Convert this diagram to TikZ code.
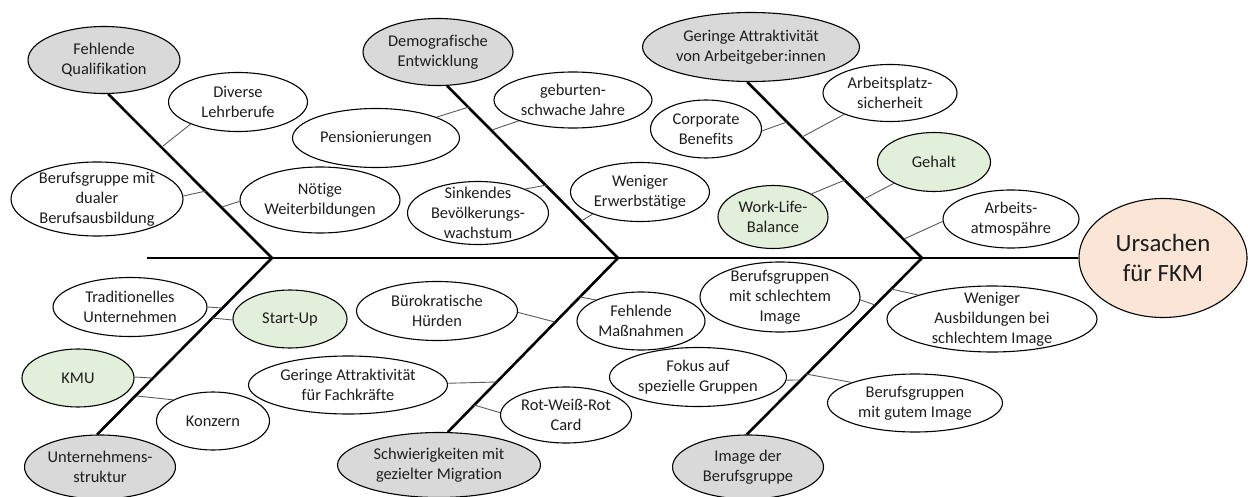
\documentclass[tikz,border=0pt]{standalone}
\usepackage{fontspec}
\setmainfont{Carlito}[Ligatures=NoCommon]
\usetikzlibrary{shapes.geometric}

\definecolor{causegrey}{HTML}{D9D9D9}
\definecolor{leafgreen}{HTML}{E2EFDA}
\definecolor{effectpeach}{HTML}{FBE5D6}
\definecolor{twiggrey}{HTML}{5A5A5A}
\definecolor{inkgrey}{HTML}{1E1E1E}

\tikzset{
  bubble/.style={ellipse, draw=black, line width=1.1pt, fill=white, inner sep=0pt},
  cause/.style={bubble, fill=causegrey},
  leaf/.style={bubble},
  greenleaf/.style={bubble, fill=leafgreen},
  effect/.style={bubble, fill=effectpeach},
  lbl/.style={align=center, inner sep=0pt, text=inkgrey, font=\fontsize{16.4}{20}\selectfont},
  biglbl/.style={align=center, inner sep=0pt, text=inkgrey, font=\fontsize{24.8}{30.5}\selectfont},
  bone/.style={line width=2.6pt, line join=miter},
  twig/.style={draw=twiggrey, line width=0.9pt},
}

% ellipse with its text: style, name, x, y, width, height, text
\newcommand{\ellnode}[7]{%
  \node[#1, minimum width=#5pt, minimum height=#6pt] (#2) at (#3,#4) {};
  \node[lbl] (#2-t) at (#2.center) {#7};
}

\begin{document}
\begin{tikzpicture}[x=1pt, y=-1pt]
\useasboundingbox (0,0) rectangle (1248,497);

% main causes
\ellnode{cause}{fq}{104}{60}{152}{67}{Fehlende\\Qualifikation}
\ellnode{cause}{dem}{438}{52}{150}{67}{Demografische\\Entwicklung}
\ellnode{cause}{att}{751}{47}{217}{69}{Geringe Attraktivität\\von Arbeitgeber:innen}
\ellnode{cause}{us}{100}{467}{151}{64}{Unternehmens-\\struktur}
\ellnode{cause}{mig}{439}{465}{203}{65}{Schwierigkeiten mit\\gezielter Migration}
\ellnode{cause}{img}{748}{467}{151}{64}{Image der\\Berufsgruppe}

% effect
\node[effect, minimum width=168pt, minimum height=119pt] (fkm) at (1163,258) {};
\node[biglbl] (fkm-t) at (fkm.center) {Ursachen\\für FKM};

% sub-causes, upper half
\ellnode{leaf}{lehr}{238}{102}{139}{59}{Diverse\\Lehrberufe}
\ellnode{leaf}{dual}{97}{199}{172}{74}{Berufsgruppe mit\\dualer\\Berufsausbildung}
\ellnode{leaf}{weit}{320}{200}{160}{66}{Nötige\\Weiterbildungen}
\ellnode{leaf}{pens}{376}{138}{167}{59}{Pensionierungen}
\ellnode{leaf}{geb}{573}{100}{158}{56}{geburten-\\schwache Jahre}
\ellnode{leaf}{sink}{478}{213}{141}{63}{Sinkendes\\Bevölkerungs-\\wachstum}
\ellnode{leaf}{erw}{640}{192}{139}{59}{Weniger\\Erwerbstätige}
\ellnode{leaf}{corp}{706}{129}{111}{58}{Corporate\\Benefits}
\ellnode{leaf}{sich}{890}{93}{134}{57}{Arbeitsplatz-\\sicherheit}
\ellnode{greenleaf}{wlb}{773}{217}{110}{63}{Work-Life-\\Balance}
\ellnode{greenleaf}{geh}{934}{162}{113}{59}{Gehalt}
\ellnode{leaf}{atmo}{1011}{219}{136}{58}{Arbeits-\\atmospähre}

% sub-causes, lower half
\ellnode{leaf}{trad}{130}{307}{154}{59}{Traditionelles\\Unternehmen}
\ellnode{greenleaf}{start}{290}{319}{114}{58}{Start-Up}
\ellnode{greenleaf}{kmu}{78}{378}{112}{58}{KMU}
\ellnode{leaf}{konz}{213}{421}{113}{58}{Konzern}
\ellnode{leaf}{buer}{437}{311}{161}{59}{Bürokratische\\Hürden}
\ellnode{leaf}{fach}{348}{385}{199}{58}{Geringe Attraktivität\\für Fachkräfte}
\ellnode{leaf}{rwr}{566}{415}{131}{56}{Rot-Weiß-Rot\\Card}
\ellnode{leaf}{mass}{641}{321}{128}{58}{Fehlende\\Maßnahmen}
\ellnode{leaf}{schl}{780}{297}{160}{70}{Berufsgruppen\\mit schlechtem\\Image}
\ellnode{leaf}{fok}{698}{377}{177}{59}{Fokus auf\\spezielle Gruppen}
\ellnode{leaf}{ausb}{992}{319}{210}{66}{Weniger\\Ausbildungen bei\\schlechtem Image}
\ellnode{leaf}{gut}{915}{403}{175}{58}{Berufsgruppen\\mit gutem Image}

% spine and bones
\coordinate (s0) at (147,258);
\coordinate (j1) at (272,258);
\coordinate (j2) at (618,258);
\coordinate (j3) at (922,258);
\draw[bone] (s0) -- (fkm.west);
\draw[bone] (fq.-83) -- (j1) -- (us.95);
\draw[bone] (dem.-75) -- (j2) -- (mig.75);
\draw[bone] (att.-96) -- (j3) -- (img.92);

% attachment points on the bones
\coordinate (t1) at (163,146);
\coordinate (t2) at (206,191);
\coordinate (t3) at (222,207);
\coordinate (t4) at (469,107);
\coordinate (t5) at (492,130);
\coordinate (t6) at (547,185);
\coordinate (t7) at (583,220);
\coordinate (t8) at (787,122);
\coordinate (t9) at (802,137);
\coordinate (t10) at (845,180);
\coordinate (t11) at (864,199);
\coordinate (t12) at (904,239);
\coordinate (t13) at (222,308);
\coordinate (t14) at (212,318);
\coordinate (t15) at (152,378);
\coordinate (t16) at (137,396);
\coordinate (t17) at (555,322);
\coordinate (t18) at (497,382);
\coordinate (t19) at (474,405);
\coordinate (t20) at (580,297);
\coordinate (t21) at (875,305);
\coordinate (t22) at (891,289);
\coordinate (t23) at (800,380);
\coordinate (t24) at (806,374);

% twigs
\draw[twig] (t1) -- (lehr.205);
\draw[twig] (t2) -- (dual.2);
\draw[twig] (t3) -- (weit.181);
\draw[twig] (t4) -- (pens.19);
\draw[twig] (t5) -- (geb.201);
\draw[twig] (t6) -- (sink.27);
\draw[twig] (t7) -- (erw.205);
\draw[twig] (t8) -- (corp.358);
\draw[twig] (t9) -- (sich.205);
\draw[twig] (t10) -- (wlb.31);
\draw[twig] (t11) -- (geh.208);
\draw[twig] (t12) -- (atmo.182);
\draw[twig] (t13) -- (trad.0);
\draw[twig] (t14) -- (start.181);
\draw[twig] (t15) -- (kmu.1);
\draw[twig] (t16) -- (konz.152);
\draw[twig] (t17) -- (buer.359);
\draw[twig] (t18) -- (fach.1);
\draw[twig] (t19) -- (rwr.178);
\draw[twig] (t20) -- (mass.155);
\draw[twig] (t21) -- (schl.358);
\draw[twig] (t22) -- (ausb.162);
\draw[twig] (t23) -- (fok.358);
\draw[twig] (t24) -- (gut.162);
\end{tikzpicture}
\end{document}
